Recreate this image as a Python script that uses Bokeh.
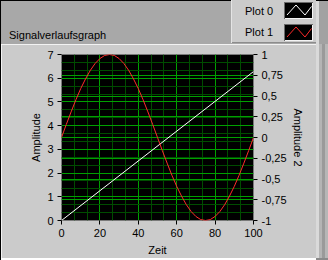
from bokeh.plotting import figure
from bokeh.models import Range1d, LinearAxis, FixedTicker, Grid, CustomJSTickFormatter, Div
from bokeh.layouts import row, column
from bokeh.embed import file_html
from bokeh.resources import INLINE

# ---------------- data ----------------
zeit = [0, 2.5, 5, 7.5, 10, 12.5, 15, 17.5, 20, 22.5, 25, 27.5, 30, 32.5, 35, 37.5, 40,
        42.5, 45, 47.5, 50, 52.5, 55, 57.5, 60, 62.5, 65, 67.5, 70, 72.5, 75, 77.5, 80,
        82.5, 85, 87.5, 90, 92.5, 95, 97.5, 100]
plot1 = [3.50, 4.05, 4.58, 5.09, 5.56, 5.97, 6.33, 6.62, 6.83, 6.96, 7.00, 6.96, 6.83,
         6.62, 6.33, 5.97, 5.56, 5.09, 4.58, 4.05, 3.50, 2.95, 2.42, 1.91, 1.44, 1.03,
         0.67, 0.38, 0.17, 0.04, 0.00, 0.04, 0.17, 0.38, 0.67, 1.03, 1.44, 1.91, 2.42,
         2.95, 3.50]
zeit0 = [0, 100]
plot0 = [0.0, 6.28]

x_ticks = [0, 20, 40, 60, 80, 100]
y_ticks = [0, 1, 2, 3, 4, 5, 6, 7]
y2_ticks = [-1, -0.75, -0.5, -0.25, 0, 0.25, 0.5, 0.75, 1]
legend_names = ["Plot 0", "Plot 1"]
title_text = "Signalverlaufsgraph"

# ---------------- layout constants (px) ----------------
W, H = 328, 260
TOPH = 44          # height of the dark title band
MAINW = 316        # width of graph panel (stripes to the right)
BL = 1             # left black border
BB = 2             # bottom border
FL, FR, FT, FB = 61, 253, 54, 221
FONT = "Liberation Sans"
FS = "11px"
PANEL = "#cbcbcb"
BAND = "#a8a8a8"
MAJ = "#00a000"
MIN = "#004c00"
RED = "#ff2a2a"


def minor(ticks, n=3):
    out = []
    for a, b in zip(ticks[:-1], ticks[1:]):
        for k in range(1, n):
            out.append(a + (b - a) * k / n)
    return out


# ---------------- main graph ----------------
PW = MAINW - BL
PH = H - TOPH - BB
p = figure(width=PW, height=PH, output_backend="svg", toolbar_location=None,
           x_range=Range1d(0, 100), y_range=Range1d(0, 7),
           min_border_left=FL - BL, min_border_right=MAINW - FR,
           min_border_top=FT - TOPH, min_border_bottom=H - BB - FB,
           x_axis_label="Zeit", y_axis_label="Amplitude")
p.title = None
p.extra_y_ranges = {"right": Range1d(-1, 1)}
p.background_fill_color = "#000000"
p.border_fill_color = PANEL
p.outline_line_color = "#7a7a7a"
p.xgrid.visible = False
p.ygrid.visible = False

xt = FixedTicker(ticks=x_ticks, minor_ticks=minor(x_ticks))
yt = FixedTicker(ticks=y_ticks, minor_ticks=minor(y_ticks))
y2t = FixedTicker(ticks=y2_ticks)

p.xaxis.ticker = xt
p.yaxis.ticker = yt
right = LinearAxis(y_range_name="right", axis_label="Amplitude 2", ticker=y2t,
                   formatter=CustomJSTickFormatter(code="return tick.toString().replace('.', ',')"))
p.add_layout(right, "right")

for ax in [p.xaxis[0], p.yaxis[0], right]:
    ax.axis_line_color = None
    ax.major_tick_in = 0
    ax.major_tick_out = 4
    ax.major_tick_line_color = "#000000"
    ax.minor_tick_line_color = None
    ax.major_label_text_font = FONT
    ax.major_label_text_font_size = FS
    ax.major_label_text_color = "#000000"
    ax.major_label_standoff = 4
    ax.axis_label_text_font = FONT
    ax.axis_label_text_font_size = FS
    ax.axis_label_text_font_style = "normal"
    ax.axis_label_text_color = "#000000"
    ax.axis_label_standoff = 2
p.xaxis[0].axis_label_standoff = 4

gx = Grid(dimension=0, ticker=xt, grid_line_color=MAJ, minor_grid_line_color=MIN)
gy = Grid(dimension=1, ticker=yt, grid_line_color=MAJ, minor_grid_line_color=MIN)
gy2 = Grid(dimension=1, ticker=y2t, y_range_name="right", grid_line_color=MAJ)
for g in [gx, gy, gy2]:
    p.add_layout(g)

p.line(zeit0, plot0, line_color="#ffffff", line_width=1)
p.line(zeit, plot1, line_color=RED, line_width=1)


# ---------------- decorations as inline SVG ----------------
def rect(x, y, w, h, c):
    return f'<rect x="{x}" y="{y}" width="{w}" height="{h}" fill="{c}"/>'


def txt(x, y, s):
    return (f'<text x="{x}" y="{y}" font-family="{FONT}" font-size="{FS}" '
            f'fill="#000000">{s}</text>')


def svg_div(w, h, parts):
    svg = (f'<svg xmlns="http://www.w3.org/2000/svg" width="{w}" height="{h}" '
           f'style="display:block">' + "".join(parts) + '</svg>')
    return Div(text=svg, width=w, height=h, margin=0,
               styles={"overflow": "hidden", "padding": "0px"})


parts = [rect(0, 0, MAINW, TOPH, BAND),
         rect(0, 0, MAINW, 1, "#000000"),
         rect(0, 0, 1, TOPH, "#000000"),
         rect(231, 0, MAINW - 231, 43, PANEL),
         rect(231, 42, MAINW - 231, 1, "#8c8c8c"),
         rect(231, 0, 1, 43, "#e4e4e4"),
         txt(9, 39, title_text)]
sw_colors = ["#ffffff", RED]
sw_tops = [2, 24]
txt_base = [15, 36]
for name, col, top, tb in zip(legend_names, sw_colors, sw_tops, txt_base):
    parts.append(txt(245, tb, name))
    parts.append(rect(284, top, 29, 17, "#000000"))
    parts.append(rect(284, top + 16, 29, 1, "#f4f4f4"))
    parts.append(rect(312, top, 1, 17, "#f4f4f4"))
    parts.append(rect(284, top, 29, 1, "#6a6a6a"))
    parts.append(rect(284, top, 1, 17, "#6a6a6a"))
    pts = [(287, top + 13), (296, top + 3), (305, top + 13), (311.5, top + 4.5)]
    ps = " ".join(f"{a},{b}" for a, b in pts)
    parts.append(f'<polyline points="{ps}" fill="none" stroke="{col}" stroke-width="1"/>')
top_div = svg_div(MAINW, TOPH, parts)

sw = W - MAINW
side_div = svg_div(sw, H, [
    rect(0, 0, 3, TOPH, "#dadada"), rect(3, 0, sw - 3, TOPH, "#a2a2a2"),
    rect(0, TOPH, 3, H - TOPH, "#dadada"), rect(3, TOPH, 3, H - TOPH, "#b4b4b4"),
    rect(6, TOPH, 3, H - TOPH, "#9a9a9a"), rect(9, TOPH, 3, H - TOPH, "#b6b6b6"),
    rect(0, 0, sw, 1, "#000000"), rect(0, H - BB, sw, BB, "#8a8a8a")])

left_div = svg_div(BL, H - TOPH, [rect(0, 0, BL, H - TOPH, "#000000")])
bottom_div = svg_div(PW, BB, [rect(0, 0, PW, BB, "#8a8a8a")])

layout = row(column(top_div, row(left_div, column(p, bottom_div, spacing=0), spacing=0),
                    spacing=0),
             side_div, spacing=0)

open("out.html", "w").write(file_html(layout, INLINE))
